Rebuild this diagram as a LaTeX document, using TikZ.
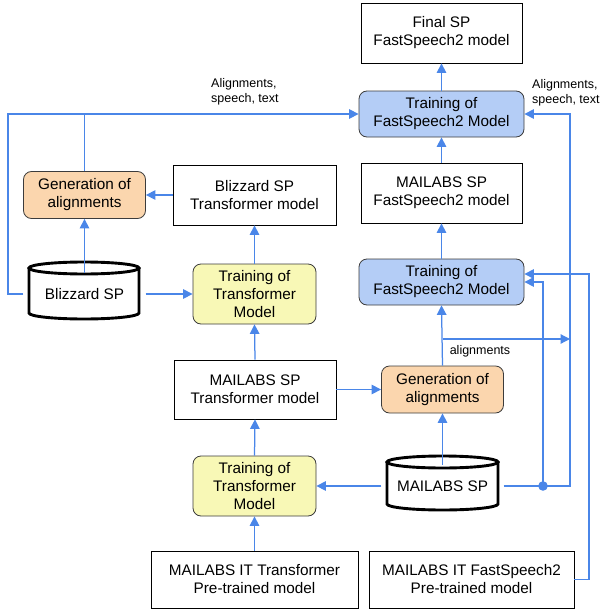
\documentclass[tikz,border=0pt]{standalone}
\usepackage{fontspec}
\setmainfont{Liberation Sans}
\usetikzlibrary{arrows.meta}
\definecolor{arrblue}{RGB}{74,134,232}
\definecolor{fsblue}{RGB}{180,205,246}
\definecolor{genorange}{RGB}{251,214,174}
\definecolor{tryellow}{RGB}{248,248,182}
\definecolor{rborder}{RGB}{60,60,60}
\tikzset{
  base/.style={inner sep=0pt, align=center, font=\fontsize{15.3}{18}\selectfont},
  plainbox/.style={base, draw=black, line width=0.8pt, fill=white},
  roundbox/.style={base, draw=rborder, line width=0.8pt, rounded corners=8pt},
  fsbox/.style={roundbox, fill=fsblue, minimum width=165pt, minimum height=46pt},
  genbox/.style={roundbox, fill=genorange, minimum width=122pt, minimum height=47pt},
  trbox/.style={roundbox, fill=tryellow, minimum width=123pt, minimum height=60pt},
  cylanchor/.style={base, minimum width=122pt, minimum height=42pt},
  cylline/.style={draw=black, line width=2.9pt, fill=white},
  arr/.style={draw=arrblue, line width=1.25pt, -{Triangle[length=9.5pt,width=9.5pt]}},
  ln/.style={draw=arrblue, line width=1.25pt},
  lbl/.style={inner sep=0pt, align=left, font=\fontsize{12.5}{15}\selectfont}
}
\begin{document}
\begin{tikzpicture}[x=1pt,y=-1pt]
\useasboundingbox (0,0) rectangle (600,610);
% cylinders drawn first
\draw[cylline] (29,268) -- (29,313) arc[start angle=180,end angle=360,x radius=55pt,y radius=6pt] -- (139,268);
\draw[cylline] (84,268) ellipse [x radius=55pt, y radius=6pt];
\draw[cylline] (387,462) -- (387,504) arc[start angle=180,end angle=360,x radius=55.5pt,y radius=6pt] -- (498,462);
\draw[cylline] (442.5,462) ellipse [x radius=55.5pt, y radius=6pt];

% nodes
\node[plainbox, minimum width=161pt, minimum height=60pt] (final) at (441.5,33) {Final SP\\FastSpeech2 model};
\node[fsbox] (trainFSa) at (441.5,114) {Training of\\FastSpeech2 Model};
\node[plainbox, minimum width=161pt, minimum height=60pt] (mlFS) at (441.5,193) {MAILABS SP\\FastSpeech2 model};
\node[fsbox] (trainFSb) at (441.5,282) {Training of\\FastSpeech2 Model};
\node[genbox] (genR) at (442.5,389.5) {Generation of\\alignments};
\node[cylanchor] (mlSP) at (442.5,486) {MAILABS SP};
\node[trbox] (trainTb) at (254.5,486) {Training of\\Transformer\\Model};
\node[plainbox, minimum width=207pt, minimum height=57pt] (itT) at (254.5,579.5) {MAILABS IT Transformer\\Pre-trained model};
\node[plainbox, minimum width=205pt, minimum height=57pt] (itFS) at (471.5,579.5) {MAILABS IT FastSpeech2\\Pre-trained model};
\node[plainbox, minimum width=162pt, minimum height=59pt] (mlT) at (255,389.5) {MAILABS SP\\Transformer model};
\node[trbox] (trainTa) at (254.5,294) {Training of\\Transformer\\Model};
\node[cylanchor, minimum width=122pt] (blizSP) at (84.5,294) {Blizzard SP};
\node[genbox] (genL) at (84.5,195) {Generation of\\alignments};
\node[plainbox, minimum width=163pt, minimum height=60pt] (blizT) at (254.5,195) {Blizzard SP\\Transformer model};

% coordinates
\coordinate (cTL) at (8,114);
\coordinate (cAl) at (570,339);
\coordinate (dot) at (543,486);
\coordinate (cRtop) at (570,114);
\coordinate (cFS) at (589,274);

% labels
\node[lbl, anchor=west] (lblL) at (211,92) {Alignments,\\speech, text};
\node[lbl, anchor=west] (lblR) at (532,93) {Alignments,\\speech, text};
\node[lbl] (lblA) at (480,351) {alignments};

% connectors
\draw[arr] (blizSP.west) -| (cTL) -- (trainFSa.west);
\draw[ln] (genL.north) -- (genL.north |- cTL);
\draw[arr] (blizSP.north) -- (genL.south);
\draw[arr] (blizT.west) -- (genL.east);
\draw[arr] (blizSP.east) -- (trainTa.west);
\draw[arr] (trainTa.north) -- (blizT.south);
\draw[arr] (mlT.north) -- (trainTa.south);
\draw[arr] (trainTb.north) -- (mlT.south);
\draw[arr] (itT.north) -- (trainTb.south);
\draw[arr] (mlSP.west) -- (trainTb.east);
\draw[arr] (mlT.east) -- (genR.west);
\draw[arr] (mlSP.north) -- (genR.south);
\draw[arr] (genR.north) -- (trainFSb.south);
\draw[arr] (genR.north |- cAl) -- (cAl);
\draw[arr] (mlSP.east) -| (cRtop) -- (trainFSa.east);
\draw[arr] (dot) |- (trainFSb.east);
\fill[arrblue] (dot) circle[radius=4.8pt];
\draw[arr] (itFS.east) -| (cFS) -- (trainFSb.east |- cFS);
\draw[arr] (trainFSa.north) -- (final.south);
\draw[arr] (trainFSb.north) -- (mlFS.south);
\draw[arr] (mlFS.north) -- (trainFSa.south);
\end{tikzpicture}
\end{document}
